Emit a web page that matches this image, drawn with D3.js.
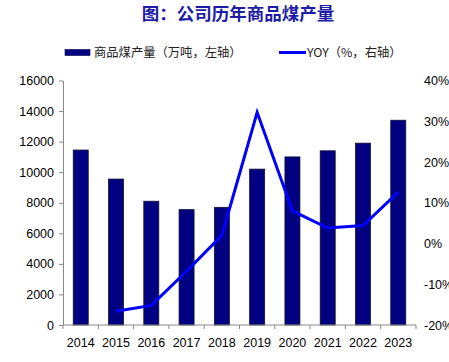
<!DOCTYPE html>
<html>
<head>
<meta charset="utf-8">
<script src="https://cdn.jsdelivr.net/npm/d3@7"></script>
<style>
  body { margin: 0; background: #fff; }
  text { font-family: "Liberation Sans", Arial, sans-serif; }
  .cn { font-family: "Noto Sans CJK SC", sans-serif; }
</style>
</head>
<body>
<div id="chart"></div>
<script>
let years = ['2014','2015','2016','2017','2018','2019','2020','2021','2022','2023'];
let output = [11450, 9550, 8100, 7550, 7700, 10200, 11000, 11400, 11900, 13400];
let yoy = [null, -16.6, -15.2, -6.8, 2.0, 32.2, 8.0, 3.8, 4.4, 12.6];
let leftTicks = [0, 2000, 4000, 6000, 8000, 10000, 12000, 14000, 16000];
let rightTicks = [-20, -10, 0, 10, 20, 30, 40];

const width = 449, height = 362;
const margin = ({top: 80.5, right: 33, bottom: 37, left: 63});

let svg = d3.select('#chart').append('svg')
  .attr('width', width)
  .attr('height', height);

let x = d3.scaleBand()
  .domain(years)
  .range([margin.left, width - margin.right])
  .paddingInner(0.575)
  .paddingOuter(0.29);

let xb = d3.scaleLinear().domain([0, years.length]).range([margin.left, width - margin.right]);

let y = d3.scaleLinear()
  .domain([0, 16000])
  .range([height - margin.bottom, margin.top]);

let y2 = d3.scaleLinear()
  .domain([-20, 40])
  .range([height - margin.bottom, margin.top]);

// title
svg.append('text')
  .attr('class', 'cn')
  .attr('x', 238).attr('y', 20)
  .attr('text-anchor', 'middle')
  .attr('fill', '#1c1ca6')
  .attr('font-size', 17.5)
  .attr('font-weight', 'bold')
  .text('图：公司历年商品煤产量');

// legend
let legend = svg.append('g');
legend.append('rect')
  .attr('x', 65).attr('y', 49.5).attr('width', 25).attr('height', 6)
  .attr('fill', '#000080').attr('stroke', '#000040').attr('stroke-width', 0.6);
legend.append('text')
  .attr('class', 'cn')
  .attr('x', 94).attr('y', 57)
  .attr('font-size', 12.3)
  .attr('fill', '#222')
  .text('商品煤产量（万吨，左轴）');
legend.append('line')
  .attr('x1', 279).attr('x2', 306).attr('y1', 52.5).attr('y2', 52.5)
  .attr('stroke', '#0000ff').attr('stroke-width', 3);
legend.append('text')
  .attr('class', 'cn')
  .attr('x', 307).attr('y', 57)
  .attr('font-size', 12.3)
  .attr('fill', '#222')
  .text('YOY（%，右轴）');

// left axis
let yAxis = svg.append('g')
  .attr('transform', `translate(${margin.left},0)`)
  .call(d3.axisLeft(y).tickValues(leftTicks).tickFormat(d3.format('d'))
    .tickSize(4).tickSizeOuter(0).tickPadding(5));
yAxis.select('.domain').attr('stroke', '#888');
yAxis.selectAll('.tick line').attr('stroke', '#888');
yAxis.selectAll('.tick text').attr('font-size', 12.5).attr('fill', '#000')
  .attr('font-family', '"Liberation Sans", Arial, sans-serif');

// right axis labels (no line)
svg.append('g').selectAll('text')
  .data(rightTicks)
  .enter().append('text')
  .attr('x', 424)
  .attr('y', d => y2(d) + 4.5)
  .attr('font-size', 12.5)
  .attr('fill', '#000')
  .text(d => d + '%');

// bars
svg.append('g').selectAll('rect')
  .data(output)
  .enter().append('rect')
  .attr('x', (d, i) => x(years[i]))
  .attr('width', x.bandwidth())
  .attr('y', d => y(d))
  .attr('height', d => y(0) - y(d))
  .attr('fill', '#000080')
  .attr('stroke', '#111133')
  .attr('stroke-width', 0.8);

// x axis
let xg = svg.append('g').attr('transform', `translate(0,${y(0)})`);
xg.append('line')
  .attr('x1', margin.left).attr('x2', width - margin.right)
  .attr('stroke', '#888');
xg.selectAll('line.tk')
  .data(d3.range(years.length + 1))
  .enter().append('line')
  .attr('class', 'tk')
  .attr('x1', d => xb(d)).attr('x2', d => xb(d))
  .attr('y1', 0).attr('y2', 4)
  .attr('stroke', '#888');
xg.selectAll('text')
  .data(years)
  .enter().append('text')
  .attr('x', d => x(d) + x.bandwidth() / 2)
  .attr('y', 22)
  .attr('text-anchor', 'middle')
  .attr('font-size', 12.5)
  .attr('fill', '#000')
  .text(d => d);

// yoy line
let line = d3.line()
  .defined(d => d != null)
  .x((d, i) => x(years[i]) + x.bandwidth() / 2)
  .y(d => y2(d));

svg.append('path')
  .datum(yoy)
  .attr('d', line)
  .attr('fill', 'none')
  .attr('stroke', '#0000ff')
  .attr('stroke-width', 3);
</script>
</body>
</html>
